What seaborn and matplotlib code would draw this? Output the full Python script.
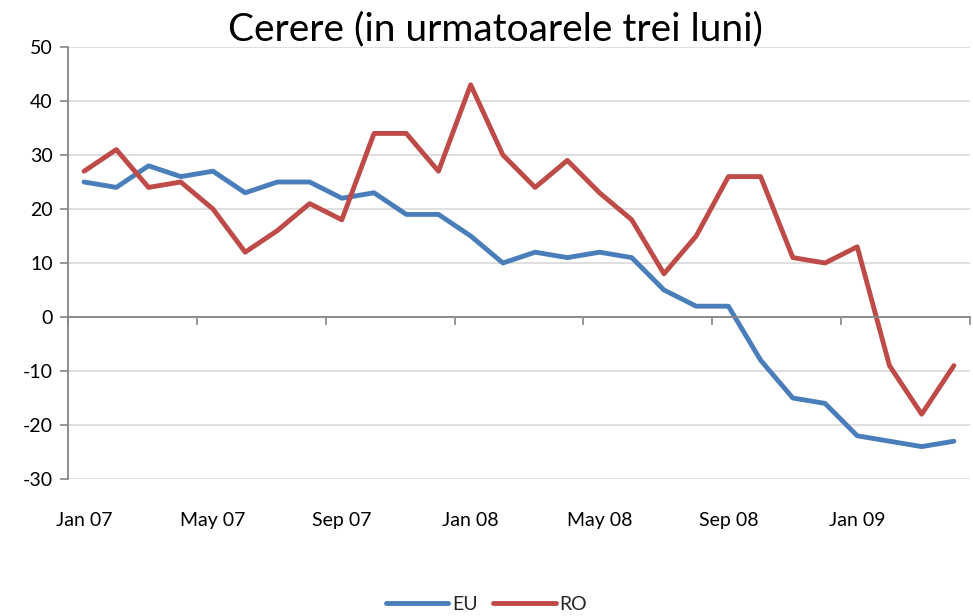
import matplotlib
matplotlib.use("Agg")
import matplotlib.pyplot as plt
import seaborn as sns
import pandas as pd
import numpy as np

months = ["Jan 07", "Feb 07", "Mar 07", "Apr 07", "May 07", "Jun 07", "Jul 07",
          "Aug 07", "Sep 07", "Oct 07", "Nov 07", "Dec 07", "Jan 08", "Feb 08",
          "Mar 08", "Apr 08", "May 08", "Jun 08", "Jul 08", "Aug 08", "Sep 08",
          "Oct 08", "Nov 08", "Dec 08", "Jan 09", "Feb 09", "Mar 09", "Apr 09"]
eu = [25, 24, 28, 26, 27, 23, 25, 25, 22, 23, 19, 19, 15, 10,
      12, 11, 12, 11, 5, 2, 2, -8, -15, -16, -22, -23, -24, -23]
ro = [27, 31, 24, 25, 20, 12, 16, 21, 18, 34, 34, 27, 43, 30,
      24, 29, 23, 18, 8, 15, 26, 26, 11, 10, 13, -9, -18, -9]
tick_labels = ["Jan 07", "May 07", "Sep 07", "Jan 08", "May 08", "Sep 08", "Jan 09"]
title = "Cerere (in urmatoarele trei luni)"

sns.set_theme(style="white")
plt.rcParams['font.family'] = ['Lato', 'DejaVu Sans']
plt.rcParams['axes.unicode_minus'] = False

df = pd.DataFrame({
    "idx": list(range(len(months))) * 2,
    "value": eu + ro,
    "series": ["EU"] * len(months) + ["RO"] * len(months),
})

fig = plt.figure(figsize=(9.73, 6.16), dpi=100)
ax = fig.add_axes([68/973, 1 - 479/616, (970-68)/973, (479-47)/616])

palette = {"EU": "#4a7ebb", "RO": "#be4b48"}
sns.lineplot(data=df, x="idx", y="value", hue="series", palette=palette,
             linewidth=3.5, ax=ax, legend=True)

ax.set_xlim(-0.5, len(months) - 0.5)
ax.set_ylim(-30, 50)
ax.set_yticks(range(-30, 51, 10))
ax.yaxis.grid(True, color="#d9d9d9", linewidth=1.2)
ax.set_axisbelow(True)
ax.set_xlabel("")
ax.set_ylabel("")

for s in ["top", "right"]:
    ax.spines[s].set_visible(False)
ax.spines["left"].set_color("#868686")
ax.spines["left"].set_linewidth(1.3)
ax.spines["bottom"].set_position(("data", 0))
ax.spines["bottom"].set_color("#868686")
ax.spines["bottom"].set_linewidth(1.3)

ax.tick_params(axis="y", which="major", left=True, length=6, width=1.2,
               color="#868686", labelsize=14, pad=5, labelcolor="black")
boundaries = [i - 0.5 for i in range(0, len(months) + 1, 4)]
ax.set_xticks(boundaries)
ax.set_xticklabels([""] * len(boundaries))
ax.tick_params(axis="x", which="major", bottom=True, length=6, width=1.2,
               color="#868686")

sec = ax.secondary_xaxis("bottom")
sec.set_xticks([months.index(t) for t in tick_labels])
sec.set_xticklabels(tick_labels)
sec.tick_params(axis="x", length=0, labelsize=14, pad=24, labelcolor="black")
sec.spines["bottom"].set_visible(False)

handles, labels = ax.get_legend_handles_labels()
for h in handles:
    h.set_solid_capstyle("round")
ax.legend_.remove()
fig.legend(handles, labels, loc="center", bbox_to_anchor=(0.5, 1 - 604/616),
           ncol=2, frameon=False, fontsize=14, handlelength=3.2,
           columnspacing=0.8, handletextpad=0.2)

fig.text(495/973, 1 - 29/616, title, ha="center", va="center", fontsize=28,
         color="black")

fig.savefig("out.png", dpi=100)
